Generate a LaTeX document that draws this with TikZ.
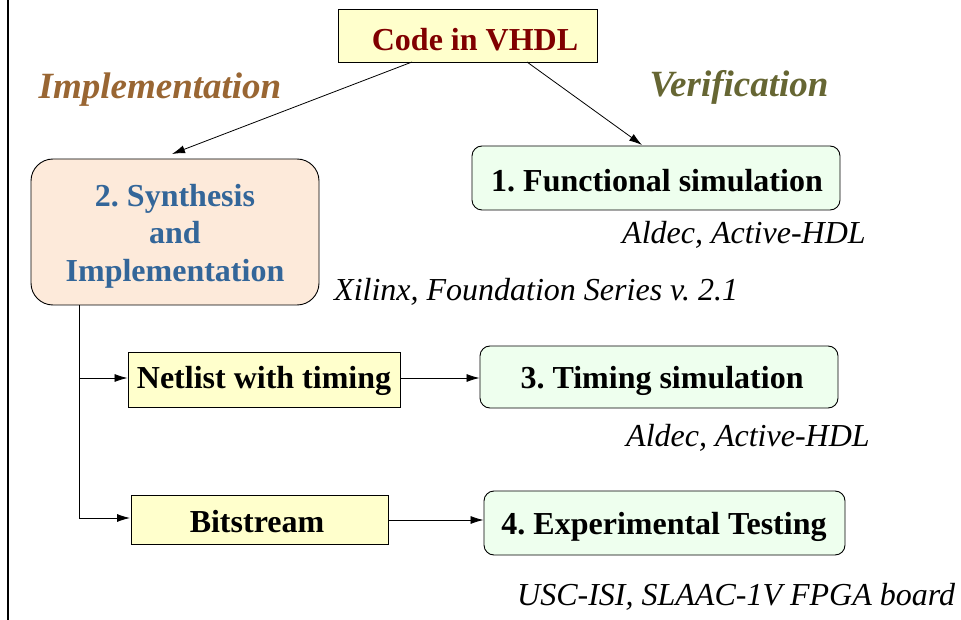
\documentclass[tikz,border=0pt]{standalone}
\usepackage{fontspec}
\setmainfont{Liberation Serif}
\usetikzlibrary{arrows.meta}
\frenchspacing
\definecolor{boxyellow}{HTML}{FFFFCC}
\definecolor{codered}{HTML}{800000}
\definecolor{peach}{HTML}{FDEADA}
\definecolor{synthblue}{HTML}{336699}
\definecolor{palegreen}{HTML}{EEFFEE}
\definecolor{implbrown}{HTML}{996633}
\definecolor{verolive}{HTML}{666633}
\tikzset{
  sqbox/.style={draw=black, line width=0.9pt, fill=boxyellow, inner sep=0pt},
  rbox/.style={draw=black, line width=0.9pt, rounded corners=10pt, fill=palegreen, inner sep=0pt},
  boxtext/.style={font=\fontsize{32}{38}\selectfont\bfseries},
  note/.style={font=\fontsize{32}{38}\selectfont\itshape, anchor=base west, inner sep=0pt},
  heading/.style={font=\fontsize{37}{42}\selectfont\bfseries\itshape, inner sep=0pt},
  link/.style={line width=0.8pt, -{Latex[length=13pt,width=8pt]}},
  wire/.style={line width=0.8pt}
}
\begin{document}
\begin{tikzpicture}[x=1pt,y=-1pt]
\useasboundingbox (0,0) rectangle (961,620);

% left margin rule
\draw[line width=2.2pt] (8,0) -- (8,620);

% boxes
\node[sqbox, minimum width=259pt, minimum height=53pt] (code) at (467.5,35.5) {};
\node[boxtext, text=codered] at (475,40) {Code in VHDL};

\node[rbox, fill=peach, rounded corners=22pt, minimum width=288pt, minimum height=146pt] (synth) at (175,232) {};
\node[boxtext, text=synthblue, align=center, font=\fontsize{32}{37.5}\selectfont\bfseries] at (175,236) {2. Synthesis\\and\\Implementation};

\node[rbox, minimum width=368pt, minimum height=64pt] (func) at (656,178) {};
\node[boxtext] at (657,181) {1. Functional simulation};

\node[sqbox, minimum width=272pt, minimum height=55pt] (net) at (264,379.5) {};
\node[boxtext] at (264,380.5) {Netlist with timing};

\node[rbox, minimum width=358pt, minimum height=62pt] (timing) at (659,377) {};
\node[boxtext, anchor=west] at (517,381) {3. Timing simulation};

\node[sqbox, minimum width=257pt, minimum height=49pt] (bits) at (259.5,519.5) {};
\node[boxtext] at (257,521.5) {Bitstream};

\node[rbox, minimum width=361pt, minimum height=64pt] (exp) at (664.5,523) {};
\node[boxtext] at (664,527) {4. Experimental Testing};

% headings
\node[heading, text=implbrown] (himpl) at (160,90) {Implementation};
\node[heading, text=verolive] (hver) at (739,87) {Verification};

% tool notes
\node[note] (n1) at (622,244) {Aldec, Active-HDL};
\node[note] (n2) at (334,301) {Xilinx, Foundation Series v. 2.1};
\node[note] (n3) at (626,446) {Aldec, Active-HDL};
\node[note] (n4) at (517,605) {USC-ISI, SLAAC-1V FPGA board};

% connectors
\coordinate (codeL) at (412,62);
\coordinate (codeR) at (527,62);
\coordinate (synthIn) at (172,154);
\coordinate (funcIn) at (642,145);
\draw[link] (codeL) -- (synthIn);
\draw[link] (codeR) -- (funcIn);

\coordinate (trunkTop) at (79,305);
\coordinate (brNet) at (79,378);
\coordinate (brBits) at (79,518);
\draw[wire] (trunkTop) -- (brBits);
\draw[link] (brNet) -- (net.west |- brNet);
\draw[link] (brBits) -- (130,518);

\draw[link] (net.east |- 0,378) -- (timing.west |- 0,378);
\draw[link] (bits.east |- 0,520) -- (exp.west |- 0,520);
\end{tikzpicture}
\end{document}
